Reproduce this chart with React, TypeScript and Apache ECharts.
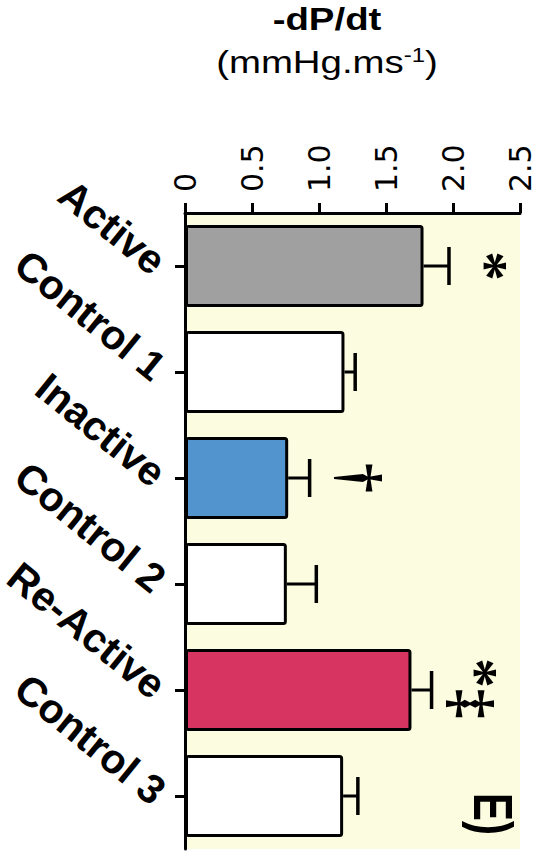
import React, { useEffect, useRef } from 'react';
import * as echarts from 'echarts';

const categories = ['Active', 'Control 1', 'Inactive', 'Control 2', 'Re-Active', 'Control 3'];
const meanValues = [1.78, 1.19, 0.77, 0.76, 1.69, 1.18];
const semValues = [0.19, 0.08, 0.16, 0.22, 0.15, 0.11];
const barColors = ['#a0a0a0', '#ffffff', '#5294ce', '#ffffff', '#d83461', '#ffffff'];

const axisMin = 0;
const axisMax = 2.5;
const axisInterval = 0.5;

const sigCategories = ['Active', 'Inactive', 'Re-Active', 'Re-Active'];
const sigSymbols = ['*', '†', '*', '‡'];
const sigValues = [2.25, 1.31, 2.18, 2.15];
const sigBandShift = [0, 0, -0.16, 0.13];

const titleText = '-dP/dt';
const unitMain = '(mmHg.ms';
const unitSup = '-1';
const unitEnd = ')';
const panelLabel = 'E)';

export default function App() {
  const ref = useRef<HTMLDivElement>(null);

  useEffect(() => {
    if (!ref.current) return;
    const chart = echarts.init(ref.current, undefined, { renderer: 'svg' });

    const option: any = {
      animation: false,
      backgroundColor: '#ffffff',
      grid: {
        left: 185,
        top: 213,
        right: 29,
        bottom: 9,
        containLabel: false,
        outerBoundsMode: 'none',
        show: true,
        backgroundColor: '#fcfce0',
        borderWidth: 0,
      },
      xAxis: {
        type: 'value',
        position: 'top',
        min: axisMin,
        max: axisMax,
        interval: axisInterval,
        axisLine: { show: true, lineStyle: { color: '#000', width: 3 } },
        axisTick: { show: true, length: 10, lineStyle: { color: '#000', width: 3 } },
        splitLine: { show: false },
        axisLabel: {
          rotate: -90,
          margin: 21,
          fontSize: 30,
          fontFamily: 'DejaVu Sans',
          color: '#000',
          formatter: (v: number) => (v === 0 ? '0' : v.toFixed(1)),
        },
      },
      yAxis: {
        type: 'category',
        data: categories,
        inverse: true,
        axisLine: { show: true, lineStyle: { color: '#000', width: 3 } },
        axisTick: { show: true, alignWithLabel: true, length: 10, lineStyle: { color: '#000', width: 3 } },
        axisLabel: {
          interval: 0,
          rotate: -39,
          margin: 25,
          fontSize: 41,
          fontWeight: 'bold',
          fontFamily: 'Liberation Sans',
          color: '#000',
        },
      },
      series: [
        {
          type: 'bar',
          barWidth: 82,
          data: meanValues.map((v, i) => ({
            value: v,
            itemStyle: { color: barColors[i] },
          })),
          itemStyle: { borderColor: '#000', borderWidth: 3, borderRadius: 2 },
          z: 2,
        },
        {
          type: 'custom',
          data: categories.map((c, i) => [i, meanValues[i], semValues[i]]),
          encode: { x: 1, y: 0 },
          z: 3,
          renderItem: (params: any, api: any) => {
            const cat = api.value(0);
            const m = api.value(1);
            const s = api.value(2);
            const p0 = api.coord([m, cat]);
            const p1 = api.coord([m + s, cat]);
            const half = 19;
            return {
              type: 'group',
              children: [
                {
                  type: 'line',
                  shape: { x1: p0[0], y1: p0[1], x2: p1[0], y2: p1[1] },
                  style: { stroke: '#000', lineWidth: 3 },
                },
                {
                  type: 'line',
                  shape: { x1: p1[0], y1: p1[1] - half, x2: p1[0], y2: p1[1] + half },
                  style: { stroke: '#000', lineWidth: 3.5 },
                },
              ],
            };
          },
        },
        {
          type: 'custom',
          data: sigCategories.map((c, i) => [categories.indexOf(c), sigValues[i], sigBandShift[i]]),
          encode: { x: 1, y: 0 },
          z: 4,
          renderItem: (params: any, api: any) => {
            const idx = params.dataIndex;
            const pt = api.coord([api.value(1), api.value(0)]);
            const band = api.size([0, 1])[1];
            return {
              type: 'text',
              x: pt[0],
              y: pt[1] + api.value(2) * band,
              rotation: -Math.PI / 2,
              style: {
                text: sigSymbols[idx],
                fontFamily: 'Liberation Serif',
                fontWeight: 'bold',
                fontSize: 60,
                fill: '#000',
                align: 'center',
                verticalAlign: 'middle',
                textAlign: 'center',
                textVerticalAlign: 'middle',
              },
            };
          },
        },
      ],
      graphic: [
        {
          type: 'text',
          x: 327,
          y: 19,
          scaleX: 1.2,
          style: {
            text: titleText,
            fontFamily: 'Liberation Sans',
            fontWeight: 'bold',
            fontSize: 32,
            fill: '#000',
            align: 'center',
            verticalAlign: 'middle',
            textAlign: 'center',
            textVerticalAlign: 'middle',
          },
        },
        {
          type: 'text',
          x: 327,
          y: 62,
          scaleX: 1.2,
          style: {
            text: `{a|${unitMain}}{s|${unitSup}}{a|${unitEnd}}`,
            rich: {
              a: { fontFamily: 'Liberation Sans', fontSize: 32, lineHeight: 34, fill: '#000', color: '#000' },
              s: { fontFamily: 'Liberation Sans', fontSize: 20, lineHeight: 12, verticalAlign: 'top', fill: '#000', color: '#000' },
            },
            fill: '#000',
            align: 'center',
            verticalAlign: 'middle',
            textAlign: 'center',
            textVerticalAlign: 'middle',
          },
        },
        {
          type: 'text',
          x: 494,
          y: 814,
          rotation: -Math.PI / 2,
          scaleX: 1.05,
          scaleY: 1.4,
          style: {
            text: panelLabel,
            fontFamily: 'Liberation Sans',
            fontWeight: 'bold',
            fontSize: 40,
            fill: '#000',
            align: 'center',
            verticalAlign: 'middle',
            textAlign: 'center',
            textVerticalAlign: 'middle',
          },
        },
      ],
    };

    chart.setOption(option);
    return () => {
      chart.dispose();
    };
  }, []);

  return (
    <div
      ref={ref}
      style={{ position: 'fixed', left: 0, top: 0, width: 549, height: 858 }}
    />
  );
}
